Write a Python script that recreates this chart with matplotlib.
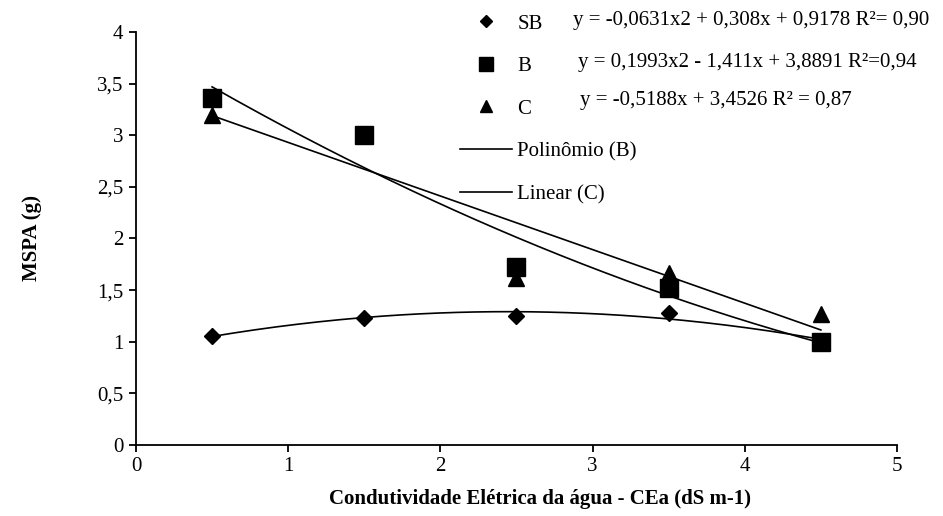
import numpy as np
import matplotlib
matplotlib.use('Agg')
import matplotlib.pyplot as plt
from matplotlib.lines import Line2D
from matplotlib.ticker import FuncFormatter

plt.rcParams['font.family'] = ['Liberation Serif', 'DejaVu Serif']

cea = [0.5, 1.5, 2.5, 3.5, 4.5]
sb = [1.06, 1.23, 1.25, 1.28, 1.00]
b = [3.36, 3.00, 1.72, 1.52, 1.00]
c = [3.20, 3.00, 1.62, 1.67, 1.27]

eq_sb = 'y = -0,0631x2 + 0,308x + 0,9178 R²= 0,90'
eq_b = 'y = 0,1993x2 - 1,411x + 3,8891 R²=0,94'
eq_c = 'y = -0,5188x + 3,4526 R² = 0,87'

font_size = 15

# trend lines (as in the spreadsheet): quadratic for SB and B, linear for C
xs = np.linspace(min(cea), max(cea), 200)
fit_sb = np.polyval(np.polyfit(cea, sb, 2), xs)
fit_b = np.polyval(np.polyfit(cea, b, 2), xs)
fit_c = np.polyval(np.polyfit(cea, c, 1), xs)

fig = plt.figure(figsize=(9.43, 5.16), dpi=100)
ax = fig.add_axes([0.1442, 0.1376, 0.8070, 0.8004])

ax.plot(cea, sb, 'D', color='black', markersize=8.5, zorder=3)
ax.plot(cea, c, '^', color='black', markersize=12, zorder=3)
ax.plot(cea, b, 's', color='black', markersize=13, zorder=3)

ax.plot(xs, fit_sb, color='black', lw=1.2, zorder=4)
ax.plot(xs, fit_b, color='black', lw=1.2, zorder=4)
ax.plot(xs, fit_c, color='black', lw=1.2, zorder=4)

ax.set_xlim(0, 5)
ax.set_ylim(0, 4)
ax.set_xticks(range(0, 6))
ax.set_yticks(np.arange(0, 4.01, 0.5))
ax.yaxis.set_major_formatter(FuncFormatter(lambda v, p: ('%g' % v).replace('.', ',')))

for side in ['top', 'right']:
    ax.spines[side].set_visible(False)
for side in ['left', 'bottom']:
    ax.spines[side].set_linewidth(1.3)
ax.tick_params(axis='both', direction='out', length=5, width=1.3, labelsize=font_size, pad=4)

ax.set_xlabel('Condutividade Elétrica da água - CEa (dS m-1)', fontsize=font_size, fontweight='bold')
ax.xaxis.set_label_coords(0.531, -0.106)
ax.set_ylabel('MSPA (g)', fontsize=font_size, fontweight='bold', labelpad=40)

handles = [
    Line2D([], [], ls='none', marker='D', color='black', markersize=6),
    Line2D([], [], ls='none', marker='s', color='black', markersize=10),
    Line2D([], [], ls='none', marker='^', color='black', markersize=9),
    Line2D([], [], color='black', lw=1.2),
    Line2D([], [], color='black', lw=1.2),
]
labels = ['SB', 'B', 'C', 'Polinômio (B)', 'Linear (C)']
leg = fig.legend(handles, labels, loc='upper left', bbox_to_anchor=(0.4878, 0.973),
                 frameon=False, fontsize=font_size, handlelength=2.5,
                 handletextpad=0.25, labelspacing=1.106, borderaxespad=0, borderpad=0)

fig.text(573 / 943, 1 - 21 / 516, eq_sb, fontsize=font_size, va='center', ha='left')
fig.text(578 / 943, 1 - 62 / 516, eq_b, fontsize=font_size, va='center', ha='left')
fig.text(580 / 943, 1 - 101 / 516, eq_c, fontsize=font_size, va='center', ha='left')

fig.savefig('out.png', dpi=100)
